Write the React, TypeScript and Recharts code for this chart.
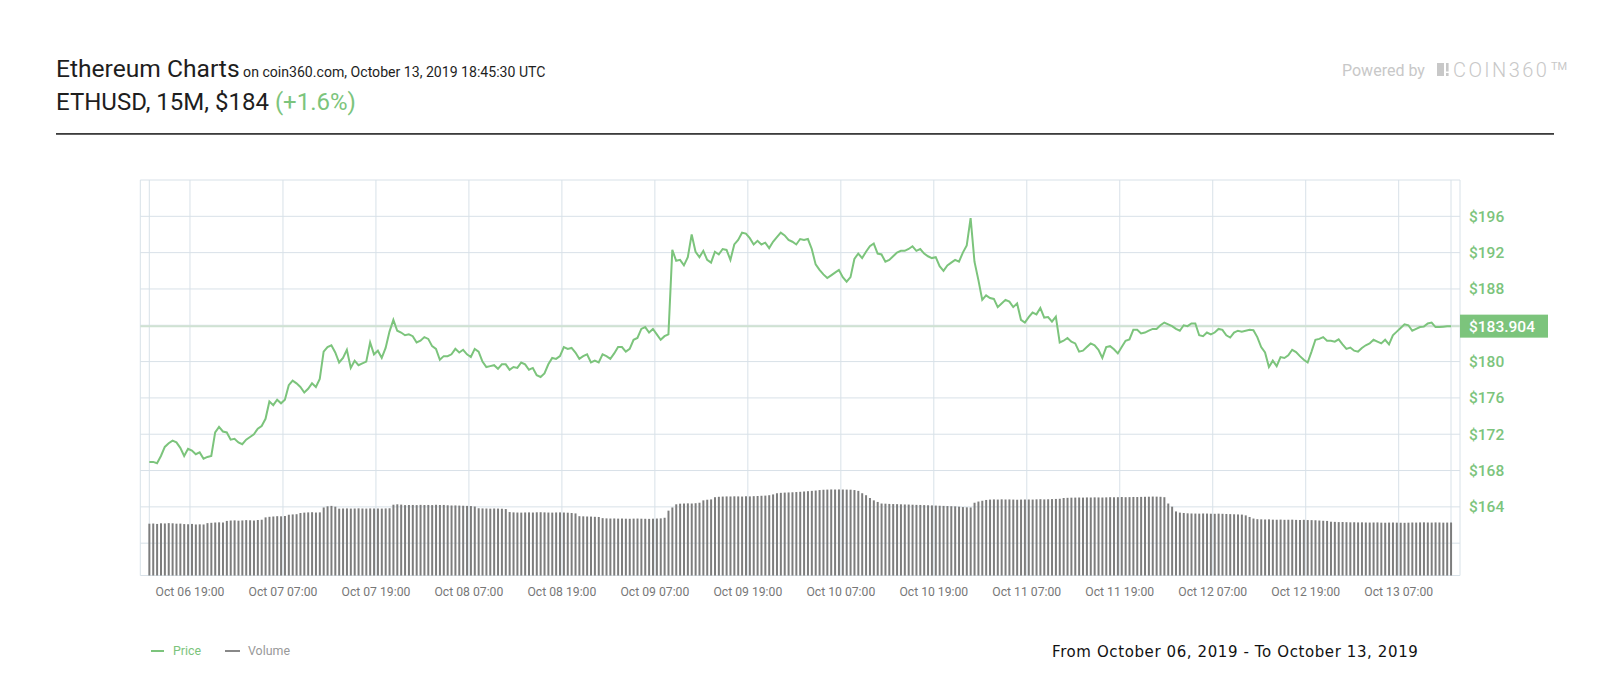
import React from 'react';
import { ComposedChart, Line, Bar, XAxis, YAxis, CartesianGrid, ReferenceLine } from 'recharts';

// ETHUSD price, one reading every 30 minutes starting Oct 06 13:45
const PRICE: number[] = [
  168.95, 168.95, 168.8, 169.6, 170.6, 171.0, 171.3, 171.1, 170.5, 169.6,
  170.4, 170.2, 169.8, 170.0, 169.3, 169.5, 169.6, 172.2, 172.8, 172.3,
  172.2, 171.4, 171.5, 171.1, 170.9, 171.4, 171.7, 172.0, 172.6, 172.9,
  173.7, 175.6, 175.2, 175.8, 175.4, 175.8, 177.4, 177.9, 177.6, 177.2,
  176.6, 177.0, 177.6, 177.2, 178.1, 181.1, 181.6, 181.8, 181.0, 179.9,
  180.4, 181.3, 179.3, 180.1, 179.6, 179.8, 180.0, 182.1, 180.8, 181.2,
  180.4, 181.5, 183.3, 184.6, 183.4, 183.2, 182.9, 183.0, 182.8, 182.1,
  182.3, 182.7, 182.5, 181.7, 181.4, 180.2, 180.6, 180.6, 180.8, 181.4,
  181.0, 181.3, 180.8, 180.5, 181.4, 181.1, 180.0, 179.4, 179.5, 179.6,
  179.2, 179.7, 179.7, 179.1, 179.4, 179.3, 179.9, 179.7, 179.1, 179.3,
  178.5, 178.3, 178.7, 179.7, 180.4, 180.3, 180.6, 181.6, 181.4, 181.5,
  181.0, 180.3, 180.6, 180.8, 179.9, 180.1, 179.9, 180.8, 180.6, 180.3,
  180.9, 181.6, 181.6, 181.1, 181.4, 182.4, 182.6, 183.6, 183.8, 183.2,
  183.6, 183.0, 182.4, 182.8, 183.0, 192.3, 191.1, 191.2, 190.6, 191.5,
  194.0, 192.1, 191.5, 192.2, 191.2, 190.9, 192.1, 191.8, 192.4, 192.3,
  191.2, 192.9, 193.4, 194.2, 194.1, 193.6, 192.9, 193.3, 192.9, 193.1,
  192.5, 193.2, 193.7, 194.2, 193.9, 193.4, 193.2, 192.9, 193.5, 193.4,
  193.5, 192.4, 190.7, 190.1, 189.6, 189.2, 189.5, 189.8, 190.1, 189.3,
  188.8, 189.3, 191.3, 191.9, 191.4, 192.1, 192.7, 193.0, 191.9, 191.8,
  191.0, 191.2, 191.6, 192.0, 192.2, 192.2, 192.4, 192.7, 192.2, 192.4,
  191.9, 191.6, 191.4, 191.5, 190.5, 190.0, 190.6, 190.9, 191.2, 191.0,
  192.0, 192.8, 195.8, 191.0, 189.0, 186.8, 187.3, 187.0, 186.9, 186.0,
  186.4, 186.8, 186.6, 186.0, 186.4, 184.6, 184.3, 184.9, 185.4, 185.2,
  185.9, 184.85, 184.9, 184.4, 184.95, 182.1, 182.3, 182.6, 182.2, 182.0,
  181.1, 181.2, 181.6, 182.0, 181.8, 181.3, 180.4, 181.6, 181.7, 181.35,
  180.9, 181.6, 182.3, 182.45, 183.5, 183.5, 183.1, 183.2, 183.4, 183.6,
  183.6, 184.0, 184.3, 184.1, 183.9, 183.6, 183.4, 184.0, 183.9, 184.2,
  184.2, 182.9, 182.8, 183.2, 183.0, 183.2, 183.6, 183.5, 182.9, 182.65,
  183.2, 183.4, 183.3, 183.4, 183.5, 183.45, 182.7, 181.6, 181.0, 179.4,
  180.1, 179.5, 180.5, 180.4, 180.7, 181.3, 181.05, 180.6, 180.2, 179.9,
  181.1, 182.4, 182.5, 182.7, 182.3, 182.3, 182.2, 182.45, 181.9, 181.4,
  181.55, 181.2, 181.1, 181.5, 181.8, 182.0, 182.4, 182.2, 182.0, 182.4,
  181.9, 182.9, 183.3, 183.7, 184.1, 184.0, 183.4, 183.6, 183.8, 183.85,
  184.2, 184.3, 183.8, 183.8, 183.85, 183.9, 183.904,
];

// Volume (billions USD), same 30-minute steps
const VOLUME_B: number[] = [
  6.55, 6.57, 6.52, 6.60, 6.58, 6.62, 6.60, 6.55, 6.56, 6.50, 6.48, 6.52, 6.45, 6.47, 6.45,
  6.62, 6.66, 6.70, 6.72, 6.70,
  6.90, 6.95, 6.97, 6.93, 6.96, 7.00, 6.98, 6.95, 7.02, 7.05,
  7.35, 7.42, 7.46, 7.50, 7.48, 7.52,
  7.68, 7.72, 7.75,
  7.90, 7.95, 7.98, 8.00, 7.96, 7.98,
  8.60, 8.75, 8.80, 8.70,
  8.45, 8.47, 8.48, 8.46, 8.47, 8.49, 8.47, 8.46, 8.48, 8.47, 8.47, 8.46, 8.48, 8.50,
  8.95, 9.00, 8.96,
  8.90, 8.91, 8.92, 8.90, 8.93, 8.91, 8.92, 8.90, 8.94, 8.91,
  8.92, 8.88, 8.85, 8.86, 8.84, 8.82, 8.80, 8.78, 8.72,
  8.50, 8.48, 8.47, 8.45, 8.47, 8.46, 8.44, 8.40,
  8.02, 7.98, 7.96, 7.95, 7.97, 7.98, 7.96, 7.99, 8.00, 7.98, 7.96, 7.95, 7.97, 7.98, 7.96, 7.94, 7.90, 7.85,
  7.50, 7.48, 7.46, 7.45, 7.42, 7.40,
  7.25, 7.22, 7.20, 7.21, 7.19, 7.20, 7.18, 7.17, 7.19, 7.20, 7.18, 7.17, 7.16, 7.18, 7.20, 7.22, 7.30,
  8.20, 8.60,
  9.00, 9.08, 9.10, 9.12, 9.10, 9.14, 9.20,
  9.50, 9.58, 9.62,
  9.90, 9.95, 9.98, 10.00, 9.99, 10.01, 10.00, 9.98, 10.02, 10.00, 10.03, 10.05, 10.08, 10.10, 10.15, 10.25,
  10.40, 10.45, 10.48, 10.50, 10.52, 10.55, 10.58, 10.62, 10.66, 10.70, 10.74,
  10.80, 10.84, 10.86, 10.88, 10.87, 10.88, 10.87, 10.86, 10.85, 10.80, 10.70,
  10.40, 10.15,
  9.80, 9.50, 9.30,
  9.10, 9.08, 9.05, 9.03, 9.02, 9.00, 8.98, 8.97, 8.95, 8.93, 8.92, 8.90, 8.88, 8.86, 8.84, 8.82, 8.80, 8.78, 8.76, 8.74, 8.70,
  8.65, 8.62, 8.60,
  9.20, 9.35, 9.45,
  9.55, 9.60, 9.62, 9.60, 9.63, 9.61, 9.62, 9.60, 9.58, 9.60, 9.62, 9.61, 9.60, 9.63, 9.65, 9.62, 9.64, 9.66, 9.68, 9.70,
  9.80, 9.82, 9.84, 9.85, 9.86, 9.85, 9.87, 9.86, 9.88, 9.87, 9.86, 9.88, 9.90, 9.89, 9.90, 9.92, 9.90, 9.91, 9.93, 9.92, 9.94, 9.95, 9.96, 9.98, 9.97, 9.95, 9.90,
  9.10, 8.70,
  8.10, 7.95, 7.90, 7.86, 7.84, 7.83, 7.82, 7.84, 7.83, 7.81, 7.80, 7.82, 7.80, 7.78, 7.76, 7.74, 7.72, 7.70, 7.60, 7.40,
  7.20, 7.12, 7.10, 7.08, 7.10, 7.06, 7.05, 7.07, 7.04, 7.05, 7.06, 7.03, 7.02, 7.04, 7.01, 7.00, 6.98, 6.95, 6.92, 6.90,
  6.80, 6.78, 6.75, 6.76, 6.74, 6.72, 6.73, 6.71, 6.72, 6.70, 6.69, 6.70, 6.71, 6.68, 6.67, 6.69, 6.70, 6.68, 6.67, 6.66,
  6.68, 6.70, 6.69, 6.71, 6.72, 6.70, 6.69, 6.71, 6.70, 6.68, 6.69, 6.70,
];

const STEP_HOURS = 0.5;
const SPAN_HOURS = 168;
const TICK_HOURS = [5.25, 17.25, 29.25, 41.25, 53.25, 65.25, 77.25, 89.25, 101.25, 113.25, 125.25, 137.25, 149.25, 161.25];
const TICK_LABELS = [
  'Oct 06 19:00', 'Oct 07 07:00', 'Oct 07 19:00', 'Oct 08 07:00', 'Oct 08 19:00',
  'Oct 09 07:00', 'Oct 09 19:00', 'Oct 10 07:00', 'Oct 10 19:00', 'Oct 11 07:00',
  'Oct 11 19:00', 'Oct 12 07:00', 'Oct 12 19:00', 'Oct 13 07:00',
];
const PRICE_TICKS = [160, 164, 168, 172, 176, 180, 184, 188, 192, 196, 200];
const PRICE_LABELED_MIN = 164;
const PRICE_LABELED_MAX = 196;
const LAST_PRICE = 183.904;

const GREEN = '#7cc47c';
const FONT = 'Roboto, "Noto Sans", sans-serif';

const rows = PRICE.map((p, i) => ({ t: i * STEP_HOURS, price: p, volume: VOLUME_B[i] ?? null }));

const XTick = (props: any) => {
  const { x, y, payload } = props;
  const idx = TICK_HOURS.indexOf(payload.value);
  if (idx < 0) return <g />;
  return (
    <text x={x} y={y} dy={11} textAnchor="middle" fontSize={12.2} fill="#777" fontFamily={FONT}>
      {TICK_LABELS[idx]}
    </text>
  );
};

const YTick = (props: any) => {
  const { x, y, payload } = props;
  const v = payload.value;
  // labels outside the shown range, and the one covered by the last-price tag, are not drawn
  if (v < PRICE_LABELED_MIN || v > PRICE_LABELED_MAX || Math.abs(v - LAST_PRICE) < 2) return <g />;
  return (
    <text x={x} y={y} dy={5.5} textAnchor="start" fontSize={15.5} fontWeight={500} fill={GREEN} fontFamily={FONT}>
      {`$${v}`}
    </text>
  );
};

const LastPriceLabel = (props: any) => {
  const vb = props.viewBox || {};
  const right = (vb.x ?? 0) + (vb.width ?? 0);
  const cy = vb.y ?? 0;
  return (
    <g>
      <rect x={right} y={cy - 11.5} width={88} height={23} fill={GREEN} />
      <text x={right + 9} y={cy + 5.5} fontSize={15.5} fontWeight={500} fill="#fff" fontFamily={FONT}>
        {`$${LAST_PRICE}`}
      </text>
    </g>
  );
};

export default function App() {
  return (
    <div style={{ position: 'absolute', left: 0, top: 0, width: 1600, height: 700, background: '#fff', overflow: 'hidden' }}>
      <div style={{ position: 'absolute', left: 0, top: 0 }}>
        <ComposedChart
          width={1600}
          height={700}
          data={rows}
          margin={{ top: 180, right: 40, bottom: 94.5, left: 140.3 }}
        >
          <CartesianGrid stroke="#d8e1e8" yAxisId="price" />
          <XAxis
            dataKey="t"
            type="number"
            domain={[0, SPAN_HOURS]}
            ticks={[0, ...TICK_HOURS, SPAN_HOURS]}
            interval={0}
            padding={{ left: 9, right: 9 }}
            axisLine={false}
            tickLine={false}
            tickSize={6}
            tickMargin={3}
            height={30}
            tick={<XTick />}
          />
          <YAxis
            yAxisId="price"
            orientation="right"
            domain={[156.44, 200]}
            ticks={PRICE_TICKS}
            interval={0}
            width={100}
            axisLine={false}
            tickLine={false}
            tickSize={6}
            tickMargin={3}
            tick={<YTick />}
            allowDataOverflow
          />
          <YAxis yAxisId="vol" domain={[0, 50]} hide width={0} />
          <Bar dataKey="volume" yAxisId="vol" fill="#7d7d7d" barSize={2} isAnimationActive={false} />
          <ReferenceLine
            y={LAST_PRICE}
            yAxisId="price"
            stroke="#cfe2d2"
            strokeWidth={2}
            label={(p: any) => <LastPriceLabel {...p} />}
          />
          <Line
            dataKey="price"
            yAxisId="price"
            type="linear"
            stroke={GREEN}
            strokeWidth={2}
            dot={false}
            activeDot={false}
            isAnimationActive={false}
          />
        </ComposedChart>
      </div>
      <svg
        width={1600}
        height={700}
        style={{ position: 'absolute', left: 0, top: 0, pointerEvents: 'none' }}
      >
        <text x={56} y={76.7} fontFamily={FONT} fill="#1e1e1e">
          <tspan fontSize={24.6}>Ethereum Charts</tspan>
          <tspan fontSize={14.1}> on coin360.com, October 13, 2019 18:45:30 UTC</tspan>
        </text>
        <text x={56} y={109.8} fontFamily={FONT} fontSize={24} fill="#1e1e1e">
          ETHUSD, 15M, $184 <tspan fill={GREEN}>(+1.6%)</tspan>
        </text>
        <text x={1342} y={76} fontFamily={FONT} fontSize={16} fill="#c8c8c8">Powered by</text>
        <rect x={1437} y={63} width={7} height={13} fill="#c8c8c8" />
        <rect x={1446} y={63} width={2.6} height={8.5} fill="#c8c8c8" />
        <rect x={1446} y={73} width={2.6} height={3} fill="#c8c8c8" />
        <text x={1453} y={76.5} fontFamily={FONT} fontSize={20} fontWeight={300} letterSpacing={2.4} fill="#c8c8c8">COIN360</text>
        <text x={1551} y={70} fontFamily={FONT} fontSize={11} fontWeight={400} fill="#c8c8c8">TM</text>
        <rect x={56} y={133} width={1498} height={1.8} fill="#3c3c3c" />

        <rect x={151} y={650} width={13} height={2} fill={GREEN} />
        <text x={173} y={655} fontFamily={FONT} fontSize={12.4} fill={GREEN}>Price</text>
        <rect x={225} y={650} width={15} height={2} fill="#888" />
        <text x={248} y={655} fontFamily={FONT} fontSize={12.4} fill="#999">Volume</text>

        <text x={1052} y={657.3} fontFamily={'"DejaVu Sans", sans-serif'} fontSize={15} letterSpacing={0.6} fill="#111">
          From October 06, 2019 - To October 13, 2019
        </text>
      </svg>
    </div>
  );
}
